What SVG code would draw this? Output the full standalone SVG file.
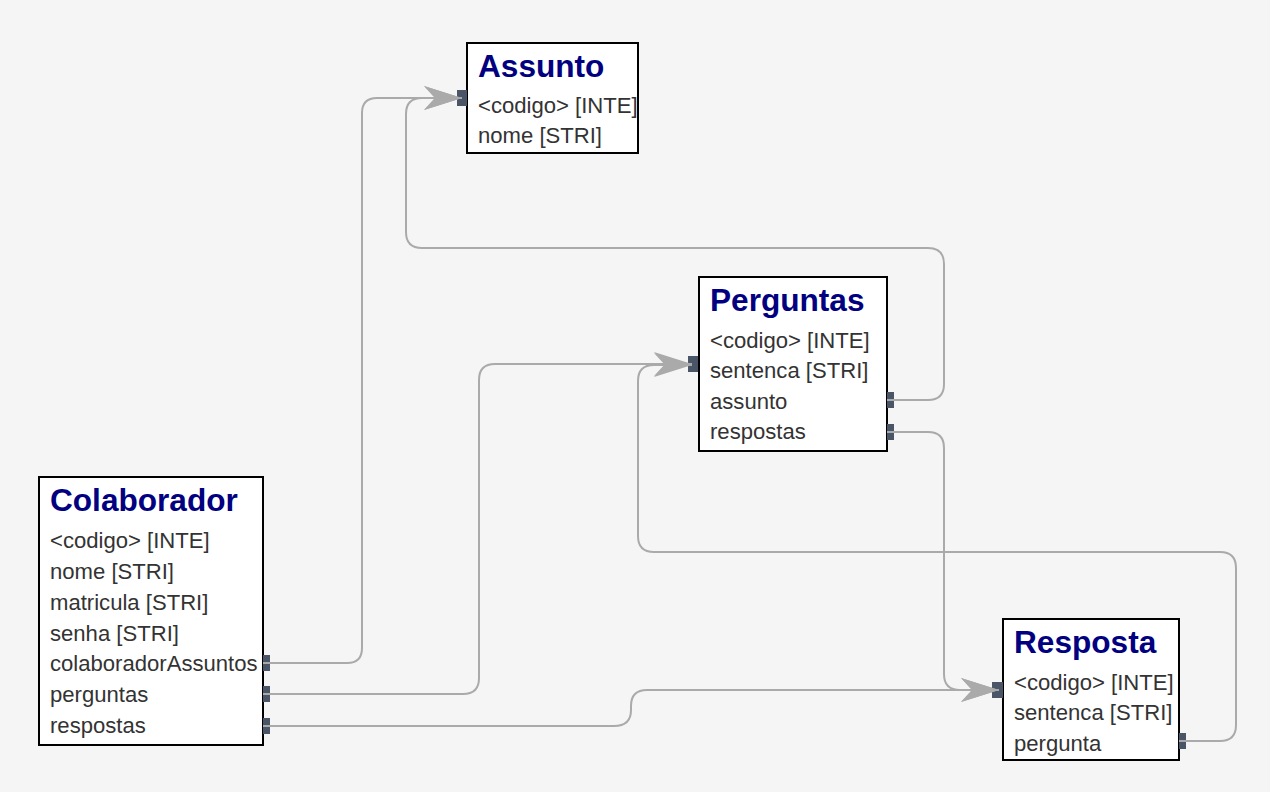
<svg xmlns="http://www.w3.org/2000/svg" width="1270" height="792" viewBox="0 0 1270 792">
<style>
.box{fill:#ffffff;stroke:#000000;stroke-width:2}
.title{font-family:"Liberation Sans",Arial,Helvetica,sans-serif;font-weight:bold;font-size:31.6px;fill:#000080}
.row{font-family:"Liberation Sans",Arial,Helvetica,sans-serif;font-size:22.1px;fill:#333333}
.port{fill:#4a5568}
.conn{fill:none;stroke:#aaaaaa;stroke-width:2}
</style>
<defs>
<marker id="arrow" markerUnits="userSpaceOnUse" markerWidth="38" markerHeight="24" viewBox="0 0 38 24" refX="38" refY="12" orient="auto">
<path d="M0,0 L38,12 L0,24 L11,12 Z" fill="#aaaaaa"/>
</marker>
</defs>
<rect x="0" y="0" width="1270" height="792" fill="#f5f5f5"/>

<g id="Assunto">
<rect class="box" x="467" y="43" width="171" height="110"/>
<text class="title" x="478" y="77">Assunto</text>
<text class="row" x="478" y="113">&lt;codigo&gt; [INTE]</text>
<text class="row" x="478" y="143">nome [STRI]</text>
<rect class="port" x="457" y="90" width="10" height="16"/>
</g>

<g id="Perguntas">
<rect class="box" x="699" y="277" width="188" height="174"/>
<text class="title" x="710" y="311">Perguntas</text>
<text class="row" x="710" y="348">&lt;codigo&gt; [INTE]</text>
<text class="row" x="710" y="378">sentenca [STRI]</text>
<text class="row" x="710" y="409">assunto</text>
<text class="row" x="710" y="439">respostas</text>
<rect class="port" x="688" y="356" width="10" height="16"/>
<rect class="port" x="887" y="392" width="7" height="16"/>
<rect class="port" x="887" y="424" width="7" height="16"/>
</g>

<g id="Colaborador">
<rect class="box" x="39" y="477" width="224" height="268"/>
<text class="title" x="50" y="511">Colaborador</text>
<text class="row" x="50" y="548">&lt;codigo&gt; [INTE]</text>
<text class="row" x="50" y="579">nome [STRI]</text>
<text class="row" x="50" y="610">matricula [STRI]</text>
<text class="row" x="50" y="641">senha [STRI]</text>
<text class="row" x="50" y="671">colaboradorAssuntos</text>
<text class="row" x="50" y="702">perguntas</text>
<text class="row" x="50" y="733">respostas</text>
<rect class="port" x="263" y="655" width="7" height="16"/>
<rect class="port" x="263" y="686" width="7" height="16"/>
<rect class="port" x="263" y="718" width="7" height="16"/>
</g>

<g id="Resposta">
<rect class="box" x="1003" y="619" width="176" height="141"/>
<text class="title" x="1014" y="653">Resposta</text>
<text class="row" x="1014" y="690">&lt;codigo&gt; [INTE]</text>
<text class="row" x="1014" y="720">sentenca [STRI]</text>
<text class="row" x="1014" y="751">pergunta</text>
<rect class="port" x="992" y="682" width="11" height="16"/>
<rect class="port" x="1179" y="733" width="7" height="16"/>
</g>

<g id="connectors">
<path class="conn" marker-end="url(#arrow)" d="M263,663 H347 Q362,663 362,648 V113 Q362,98 377,98 H462"/>
<path class="conn" marker-end="url(#arrow)" d="M887,400 H928 Q944,400 944,384 V264 Q944,248 928,248 H422 Q406,248 406,232 V114 Q406,98 422,98 H462"/>
<path class="conn" marker-end="url(#arrow)" d="M263,694 H463 Q479,694 479,678 V380 Q479,364 495,364 H692"/>
<path class="conn" marker-end="url(#arrow)" d="M1179,741 H1220 Q1236,741 1236,725 V568 Q1236,552 1220,552 H654 Q638,552 638,536 V381 Q638,365 654,365 H692"/>
<path class="conn" marker-end="url(#arrow)" d="M887,432 H928 Q944,432 944,448 V674 Q944,690 960,690 H999"/>
<path class="conn" marker-end="url(#arrow)" d="M263,726 H614 Q631,726 631,710 V706 Q631,690 647,690 H999"/>
</g>
</svg>
